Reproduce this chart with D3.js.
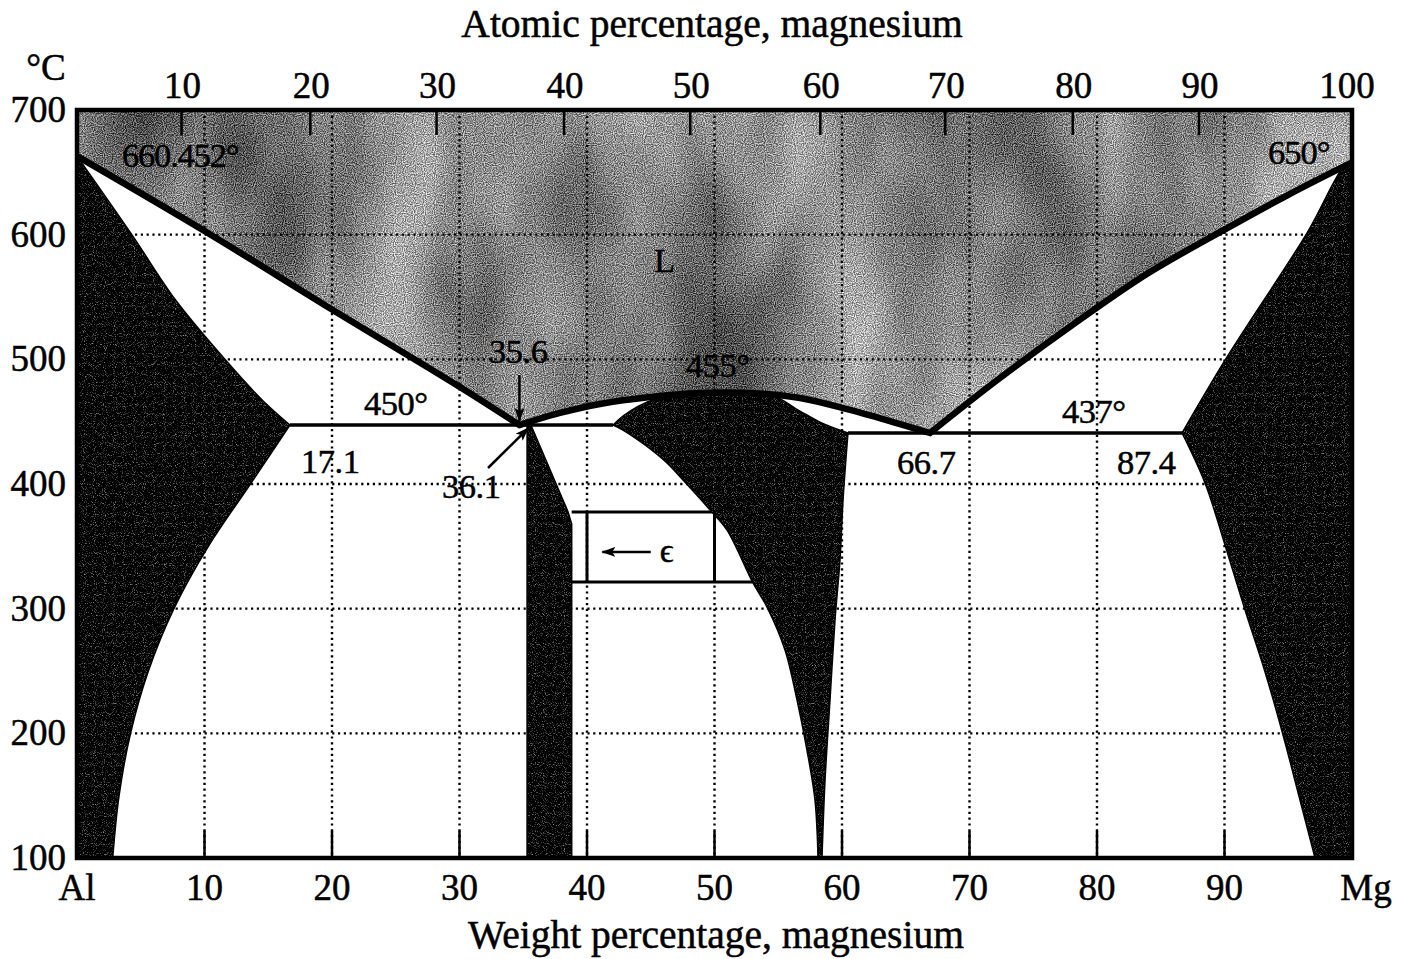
<!DOCTYPE html>
<html><head><meta charset="utf-8">
<script src="https://cdn.jsdelivr.net/npm/d3@7"></script>
<style>
body{margin:0;background:#fff}
svg{display:block}
text{font-family:"Liberation Serif","Times New Roman",serif;fill:#000;stroke:#000;stroke-width:0.5px}
</style>
</head><body>
<svg id="c" width="1406" height="959"></svg>
<script>
// ---------- data (weight % Mg, temperature °C) ----------
const wtTicks = [0,10,20,30,40,50,60,70,80,90,100];
const wtTickLabels = ["Al","10","20","30","40","50","60","70","80","90","Mg"];
const tempTicks = [100,200,300,400,500,600,700];
const atomicTickLabels = ["10","20","30","40","50","60","70","80","90","100"];
const atomicTickWt = [8.2,18.3,28.2,38.2,48.1,58.3,68.1,78.1,88.0,100];

const liquidusAl  = [[0,663],[10,603],[20,540],[30,478],[34.7,447.3]];
const liquidusMid = [[34.7,447.3],[37.88,457.0],[41.02,464.2],[44.94,469.8],[48.86,473.0],[52.78,473.0],[56.71,469.0],[60.63,459.4],[64.55,448.1],[66.9,440.9]];
const liquidusMg  = [[66.9,440.9],[72,482],[78,527],[84,569],[90,604],[95,632],[100,658]];

const solidusAl = [[0,663],[4.3,600],[7.7,548],[11.6,500],[14.5,467.6],[16.7,447.3]];
const solvusAl  = [[16.7,447.3],[13.6,400],[10.3,350],[7.6,300],[5.6,250],[4.2,200],[3.3,150],[2.8,100]];

const betaLeft  = [[35.3,447.3],[35.3,100]];
const betaRight = [[35.6,447.3],[38.5,378],[38.8,368],[38.8,100]];

const gammaTop = [[42.04,447.3],[42.9,455],[44.0,462.3],[45.6,469],[47,471.8],[48.86,473.0],[52.78,473.0],[54.5,471.5],[56.7,458.5],[58.4,449],[60.47,440.9]];
const gammaRight = [[60.47,440.9],[60.3,418.9],[60.08,386.8],[59.84,338.7],[59.45,290.6],[59.06,226.8],[58.67,162.3],[58.43,100]];
const gammaLeft = [[58.12,100],[57.88,146.5],[57.25,186.6],[56.47,226.8],[55.53,266.9],[54.12,301.3],[53.02,320.6],[50.98,363.1],[49.65,379.2],[47.53,403.2],[46.27,416.9],[44.55,431.3],[42.82,443.3],[42.04,447.3]];

const solidusMg = [[100,658],[99.45,655.9],[96.47,601.3],[90.2,501.9],[86.67,440.9]];
const solvusMg  = [[86.67,440.9],[88.47,400.8],[90.04,351.1],[91.61,298.9],[93.18,249.2],[94.59,198.7],[95.92,146.5],[97.1,100]];

const eutecticAl = [[16.7,447.3],[42.04,447.3]];
const eutecticMg = [[60.47,440.9],[86.67,440.9]];
const epsLines = [
  [[38.8,377.5],[49.8,377.5]],
  [[38.8,321.4],[53.0,321.4]],
  [[40,377.5],[40,321.4]],
  [[50,377.5],[50,321.4]]
];
const eutecticPointAl = [34.7,447.3];
const betaTopPoint = [35.4,447.3];

// ---------- setup ----------
const svg = d3.select("#c");
const x = d3.scaleLinear().domain([0,100]).range([77,1352]);
const y = d3.scaleLinear().domain([100,700]).range([858,110]);

const curve = d3.line().x(d=>x(d[0])).y(d=>y(d[1])).curve(d3.curveCatmullRom.alpha(0.5));
const straight = d3.line().x(d=>x(d[0])).y(d=>y(d[1]));
const join = segs => segs.map((s,i)=> i===0 ? s : "L"+s.slice(1)).join("") + "Z";

const defs = svg.append("defs");
defs.html(`
<filter id="grayTex" filterUnits="userSpaceOnUse" x="60" y="90" width="1310" height="790" color-interpolation-filters="sRGB">
  <feTurbulence type="fractalNoise" baseFrequency="0.9" numOctaves="1" seed="2" result="fine"/>
  <feColorMatrix in="fine" type="matrix" values="2.6 0 0 0 -0.8  2.6 0 0 0 -0.8  2.6 0 0 0 -0.8  0 0 0 0 1" result="fineG"/>
  <feTurbulence type="fractalNoise" baseFrequency="0.009 0.004" numOctaves="3" seed="11" result="blot"/>
  <feColorMatrix in="blot" type="matrix" values="1.5 0 0 0 -0.25  1.5 0 0 0 -0.25  1.5 0 0 0 -0.25  0 0 0 0 1" result="blotG"/>
  <feComposite in="fineG" in2="blotG" operator="arithmetic" k1="0" k2="0.55" k3="0.45" k4="-0.07"/>
</filter>
<filter id="darkTex" filterUnits="userSpaceOnUse" x="60" y="90" width="1310" height="790" color-interpolation-filters="sRGB">
  <feTurbulence type="fractalNoise" baseFrequency="1.1" numOctaves="1" seed="5" result="n"/>
  <feColorMatrix in="n" type="matrix" values="2.2 0 0 0 -1.2  2.2 0 0 0 -1.2  2.2 0 0 0 -1.2  0 0 0 0 1"/>
</filter>
<marker id="ah" viewBox="0 0 14 10" refX="13" refY="5" markerWidth="14" markerHeight="10" markerUnits="userSpaceOnUse" orient="auto">
  <path d="M0,0 L14,5 L0,10 L3,5 Z" fill="#000"/>
</marker>
`);

// region paths
const liquidPath = "M"+x(0)+","+y(700)+"L"+curve(liquidusAl).slice(1)+"L"+curve(liquidusMid).slice(1)+"L"+curve(liquidusMg).slice(1)+"L"+x(100)+","+y(700)+"Z";
const alphaPath = join([curve(solidusAl), curve(solvusAl), straight([[2.8,100],[0,100],[0,663]])]);
const betaPath = join([straight(betaLeft), straight([[35.3,100],[38.8,100]]), straight(betaRight.slice().reverse())]);
const gammaPath = join([curve(gammaTop), curve(gammaRight), straight([[58.43,100],[58.12,100]]), curve(gammaLeft)]);
const mgPath = join([curve(solidusMg), curve(solvusMg), straight([[97.1,100],[100,100],[100,658]])]);
const darkPaths = [alphaPath, betaPath, gammaPath, mgPath];

defs.append("clipPath").attr("id","liqClip").append("path").attr("d", liquidPath);
const dc = defs.append("clipPath").attr("id","darkClip");
darkPaths.forEach(p=>dc.append("path").attr("d",p));

// 1. liquid gray texture
svg.append("g").attr("clip-path","url(#liqClip)")
  .append("rect").attr("x",60).attr("y",90).attr("width",1310).attr("height",790)
  .attr("filter","url(#grayTex)");

// 2. dotted grid
const grid = svg.append("g").attr("stroke","#000").attr("stroke-width",2.4).attr("stroke-dasharray","2.2,3.6");
wtTicks.slice(1,-1).forEach(w=>{
  grid.append("line").attr("x1",x(w)).attr("x2",x(w)).attr("y1",y(700)).attr("y2",y(100));
});
tempTicks.slice(1,-1).forEach(t=>{
  grid.append("line").attr("x1",x(0)).attr("x2",x(100)).attr("y1",y(t)).attr("y2",y(t));
});

// 3. dark phases
svg.append("g").attr("clip-path","url(#darkClip)")
  .append("rect").attr("x",60).attr("y",90).attr("width",1310).attr("height",790)
  .attr("filter","url(#darkTex)");
svg.append("g").selectAll("path").data(darkPaths).join("path")
  .attr("d",d=>d).attr("fill","none").attr("stroke","#000").attr("stroke-width",1.5);

// 4. phase lines
const liqLine = "M"+curve(liquidusAl).slice(1)+"L"+curve(liquidusMid).slice(1)+"L"+curve(liquidusMg).slice(1);
svg.append("path").attr("d",liqLine).attr("fill","none").attr("stroke","#000").attr("stroke-width",6.5).attr("stroke-linejoin","miter");
[eutecticAl, eutecticMg].forEach(l=>svg.append("path").attr("d",straight(l)).attr("stroke","#000").attr("stroke-width",3.5));
epsLines.forEach(l=>svg.append("path").attr("d",straight(l)).attr("stroke","#000").attr("stroke-width",3));

// 5. ticks
const ticks = svg.append("g").attr("stroke","#000").attr("stroke-width",2.5);
wtTicks.slice(1,-1).forEach(w=>ticks.append("line").attr("x1",x(w)).attr("x2",x(w)).attr("y1",y(100)).attr("y2",y(100)-27));
atomicTickWt.slice(0,-1).forEach(w=>ticks.append("line").attr("x1",x(w)).attr("x2",x(w)).attr("y1",y(700)).attr("y2",y(700)+25));

// 6. frame
svg.append("rect").attr("x",x(0)).attr("y",y(700)).attr("width",x(100)-x(0)).attr("height",y(100)-y(700))
  .attr("fill","none").attr("stroke","#000").attr("stroke-width",4.5);

// 7. axis text
const T = svg.append("g");
tempTicks.forEach(t=>T.append("text").attr("x",66).attr("y",y(t)+12).attr("text-anchor","end").attr("font-size",37).text(t));
T.append("text").attr("x",46).attr("y",80).attr("text-anchor","middle").attr("font-size",37).text("°C");
wtTicks.forEach((w,i)=>{
  let dx = 0; if(i===wtTicks.length-1) dx = 14;
  T.append("text").attr("x",x(w)+dx).attr("y",900).attr("text-anchor","middle").attr("font-size",37).text(wtTickLabels[i]);
});
atomicTickWt.forEach((w,i)=>{
  let dx = i===atomicTickWt.length-1 ? -5 : 1;
  T.append("text").attr("x",x(w)+dx).attr("y",98).attr("text-anchor","middle").attr("font-size",37).text(atomicTickLabels[i]);
});
T.append("text").attr("x",712).attr("y",37).attr("text-anchor","middle").attr("font-size",39.5).text("Atomic percentage, magnesium");
T.append("text").attr("x",716).attr("y",948).attr("text-anchor","middle").attr("font-size",39.5).text("Weight percentage, magnesium");

// 8. annotations
const ann = [
  {t:"660.452°", x:122, y:167, ls:-1.2},
  {t:"650°", x:1268, y:164, ls:-1},
  {t:"L", x:654, y:272, ls:0},
  {t:"35.6", x:489, y:363, ls:-0.5},
  {t:"455°", x:686, y:377, ls:-0.5},
  {t:"450°", x:364, y:415, ls:-0.5},
  {t:"17.1", x:301, y:473, ls:-0.5},
  {t:"36.1", x:442, y:498, ls:-0.5},
  {t:"66.7", x:897, y:474, ls:-0.5},
  {t:"437°", x:1062, y:423, ls:-0.5},
  {t:"87.4", x:1117, y:474, ls:-0.5}
];
ann.forEach(a=>T.append("text").attr("x",a.x).attr("y",a.y).attr("font-size",34.5).attr("letter-spacing",a.ls).text(a.t));

// arrows
svg.append("line").attr("x1",x(eutecticPointAl[0])).attr("y1",y(eutecticPointAl[1])-50)
  .attr("x2",x(eutecticPointAl[0])).attr("y2",y(eutecticPointAl[1])-4)
  .attr("stroke","#000").attr("stroke-width",2.5).attr("marker-end","url(#ah)");
svg.append("line").attr("x1",488).attr("y1",468)
  .attr("x2",x(betaTopPoint[0])).attr("y2",y(betaTopPoint[1])+3)
  .attr("stroke","#000").attr("stroke-width",2.5).attr("marker-end","url(#ah)");
svg.append("line").attr("x1",x(45.0)).attr("y1",y(345.5))
  .attr("x2",x(41.2)).attr("y2",y(345.5))
  .attr("stroke","#000").attr("stroke-width",2.5).attr("marker-end","url(#ah)");
T.append("text").attr("x",x(45.7)).attr("y",y(345.5)+10).attr("font-size",34).text("ϵ");
</script>
</body></html>
